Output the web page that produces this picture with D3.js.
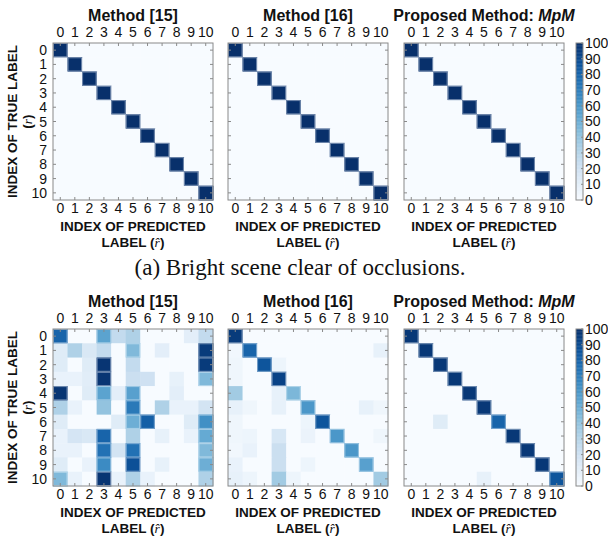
<!DOCTYPE html>
<html>
<head>
<meta charset="utf-8">
<script src="https://cdn.jsdelivr.net/npm/d3@7"></script>
<style>
  html, body { margin: 0; padding: 0; background: #fff; }
  svg { display: block; }
</style>
</head>
<body>
<svg id="chart" width="608" height="536"></svg>
<script>
// Class indices 0..10 (true label rows, predicted label columns)
const classes = d3.range(11);
const colorTicks = [0, 10, 20, 30, 40, 50, 60, 70, 80, 90, 100];
const methodTitles = ["Method [15]", "Method [16]", "Proposed Method: "];
const captionTop = "(a) Bright scene clear of occlusions.";

// Scene (a): bright, no occlusions — every method is perfect
const brightM15 = classes.map(r => classes.map(c => r === c ? 100 : 0));
const brightM16 = classes.map(r => classes.map(c => r === c ? 100 : 0));
const brightMpM = classes.map(r => classes.map(c => r === c ? 100 : 0));

// Scene (b): occluded — confusion percentages (rows: true, cols: predicted)
const occM15 = [
  [80, 0, 0, 55, 25, 32, 0, 0, 0, 10, 25],
  [12, 32, 15, 25, 0, 45, 0, 10, 0, 0, 96],
  [12, 0, 12, 98, 0, 25, 0, 0, 0, 0, 96],
  [7, 7, 11, 98, 0, 22, 20, 0, 8, 0, 45],
  [98, 0, 12, 55, 10, 56, 0, 0, 10, 0, 0],
  [32, 7, 0, 40, 0, 72, 0, 32, 7, 7, 18],
  [12, 0, 0, 0, 12, 50, 82, 0, 0, 12, 63],
  [7, 17, 15, 80, 0, 32, 0, 8, 0, 7, 52],
  [7, 7, 0, 75, 18, 75, 0, 0, 0, 0, 45],
  [12, 0, 7, 65, 0, 88, 0, 8, 0, 0, 50],
  [45, 7, 0, 98, 7, 32, 7, 0, 0, 0, 32]
];
const occM16 = [
  [96, 0, 0, 0, 0, 0, 0, 0, 0, 0, 0],
  [3, 80, 0, 0, 0, 0, 0, 0, 0, 0, 8],
  [4, 0, 86, 5, 0, 0, 0, 0, 0, 0, 0],
  [4, 0, 0, 93, 0, 0, 0, 0, 0, 0, 0],
  [36, 0, 0, 8, 46, 0, 0, 0, 0, 0, 0],
  [8, 4, 0, 8, 0, 60, 0, 0, 0, 8, 4],
  [4, 0, 0, 0, 0, 5, 86, 0, 0, 0, 0],
  [4, 5, 0, 16, 0, 6, 0, 60, 0, 0, 4],
  [3, 7, 0, 22, 0, 0, 0, 0, 60, 0, 0],
  [7, 0, 0, 22, 0, 5, 0, 0, 0, 56, 0],
  [8, 5, 0, 36, 5, 0, 0, 0, 0, 0, 36]
];
const occMpM = [
  [97, 0, 0, 0, 0, 0, 0, 0, 0, 0, 0],
  [0, 97, 0, 0, 0, 0, 0, 0, 0, 0, 0],
  [0, 0, 97, 0, 0, 0, 0, 0, 0, 0, 0],
  [0, 0, 0, 97, 0, 0, 0, 0, 0, 0, 0],
  [0, 0, 0, 0, 97, 0, 0, 0, 0, 0, 0],
  [0, 0, 0, 0, 0, 97, 0, 0, 0, 0, 0],
  [0, 0, 12, 0, 0, 0, 80, 0, 0, 0, 0],
  [0, 0, 0, 0, 0, 0, 0, 97, 0, 0, 0],
  [0, 0, 0, 0, 0, 0, 0, 0, 97, 0, 0],
  [0, 0, 0, 0, 0, 0, 0, 0, 0, 97, 0],
  [0, 0, 0, 0, 0, 8, 0, 0, 0, 0, 86]
];

const svg = d3.select("#chart");
const color = d3.scaleSequential(d3.interpolateBlues).domain([0, 100]);

const panelLeft = [53, 228, 404];
const panelW = 160;
const rowTops = [43, 329];
const panelH = 157;
const tickFont = "'Liberation Sans', Arial, Helvetica, sans-serif";
const axisGrey = "#8a8a8a";

function drawMatrix(g, data, showY) {
  const x = d3.scaleBand().domain(classes).range([0, panelW]);
  const y = d3.scaleBand().domain(classes).range([0, panelH]);
  const cells = [];
  data.forEach((row, r) => row.forEach((v, c) => cells.push({ r, c, v })));

  g.selectAll("rect.cell").data(cells).join("rect")
    .attr("class", "cell")
    .attr("x", d => x(d.c))
    .attr("y", d => y(d.r))
    .attr("width", x.bandwidth() + 0.5)
    .attr("height", y.bandwidth() + 0.5)
    .attr("fill", d => color(d.v));

  // soft rim around strongly coloured cells
  g.selectAll("rect.rim").data(cells.filter(d => d.v > 40)).join("rect")
    .attr("class", "rim")
    .attr("x", d => x(d.c) + 0.5)
    .attr("y", d => y(d.r) + 0.5)
    .attr("width", x.bandwidth() - 1)
    .attr("height", y.bandwidth() - 1)
    .attr("fill", "none")
    .attr("stroke", d => d3.interpolateRgb(color(d.v), "#f7fbff")(0.45))
    .attr("stroke-width", 1);

  const axTop = d3.axisTop(x).tickSize(-3).tickPadding(6);
  const axBot = d3.axisBottom(x).tickSize(-3).tickPadding(3);
  const axLeft = d3.axisLeft(y).tickSize(-3).tickPadding(6);
  const axRight = d3.axisRight(y).tickSize(-3).tickFormat("");

  const styleAxis = sel => {
    sel.select(".domain").remove();
    sel.selectAll("line").attr("stroke", axisGrey);
    sel.selectAll("text")
      .attr("font-family", tickFont)
      .attr("font-size", 14)
      .attr("fill", "#111");
  };
  g.append("g").call(axTop).call(styleAxis);
  g.append("g").attr("transform", `translate(0,${panelH})`).call(axBot).call(styleAxis);
  const gl = g.append("g").call(showY ? axLeft : axLeft.tickFormat("")).call(styleAxis);
  gl.selectAll("text").attr("dy", "0.36em");
  g.append("g").attr("transform", `translate(${panelW},0)`).call(axRight).call(styleAxis);

  g.append("rect")
    .attr("width", panelW).attr("height", panelH)
    .attr("fill", "none").attr("stroke", axisGrey).attr("stroke-width", 1);
}

function drawColorbar(g) {
  const cbW = 7;
  const yc = d3.scaleLinear().domain([0, 100]).range([panelH, 0]);
  const steps = d3.range(0, 100, 0.5);
  g.selectAll("rect.cb").data(steps).join("rect")
    .attr("x", 0)
    .attr("y", d => yc(d + 0.5))
    .attr("width", cbW)
    .attr("height", Math.abs(yc(0) - yc(0.5)) + 0.4)
    .attr("fill", d => color(d + 0.25));
  g.append("rect").attr("width", cbW).attr("height", panelH)
    .attr("fill", "none").attr("stroke", axisGrey);
  const ax = d3.axisRight(yc).tickValues(colorTicks).tickSize(0).tickPadding(2);
  const ga = g.append("g").attr("transform", `translate(${cbW},0)`).call(ax);
  ga.select(".domain").remove();
  ga.selectAll("text").attr("font-family", tickFont).attr("font-size", 14).attr("fill", "#111");
  // inner ticks on the colour bar
  g.selectAll("line.cbt").data(colorTicks).join("line")
    .attr("x1", cbW - 2).attr("x2", cbW)
    .attr("y1", d => yc(d)).attr("y2", d => yc(d))
    .attr("stroke", axisGrey);
}

function drawRow(top, matrices) {
  matrices.forEach((m, i) => {
    const g = svg.append("g").attr("transform", `translate(${panelLeft[i]},${top})`);
    drawMatrix(g, m, i === 0);
    const cx = panelLeft[i] + panelW / 2;

    // panel title
    const t = svg.append("text")
      .attr("x", cx).attr("y", top - 22)
      .attr("text-anchor", "middle")
      .attr("font-family", tickFont).attr("font-weight", "bold").attr("font-size", 16)
      .attr("fill", "#111")
      .text(methodTitles[i]);
    if (i === 2) t.append("tspan").attr("font-style", "italic").text("MpM");

    // x-axis label (two lines)
    const xl = svg.append("text")
      .attr("x", cx).attr("y", top + panelH + 31)
      .attr("text-anchor", "middle")
      .attr("font-family", tickFont).attr("font-weight", "bold").attr("font-size", 13.5)
      .attr("fill", "#111");
    xl.append("tspan").attr("x", cx).text("INDEX OF PREDICTED");
    const l2 = xl.append("tspan").attr("x", cx).attr("dy", 16).text("LABEL (");
    l2.append("tspan").attr("font-family", "'Liberation Serif', serif").attr("font-style", "italic")
      .attr("font-weight", "normal").text("r\u0302");
    l2.append("tspan").text(")");
  });

  // y-axis label (two lines, rotated)
  const cy = top + panelH / 2;
  const yl = svg.append("text")
    .attr("transform", `translate(17,${cy}) rotate(-90)`)
    .attr("text-anchor", "middle")
    .attr("font-family", tickFont).attr("font-weight", "bold").attr("font-size", 13.5)
    .attr("fill", "#111");
  yl.append("tspan").attr("x", 0).text("INDEX OF TRUE LABEL");
  const y2 = yl.append("tspan").attr("x", 0).attr("dy", 15).text("(");
  y2.append("tspan").attr("font-family", "'Liberation Serif', serif").attr("font-style", "italic")
    .attr("font-weight", "normal").text("r");
  y2.append("tspan").text(")");

  drawColorbar(svg.append("g").attr("transform", `translate(576,${top})`));
}

drawRow(rowTops[0], [brightM15, brightM16, brightMpM]);
drawRow(rowTops[1], [occM15, occM16, occMpM]);

svg.append("text")
  .attr("x", 300).attr("y", 275)
  .attr("text-anchor", "middle")
  .attr("font-family", "'Liberation Serif', 'Times New Roman', serif")
  .attr("font-size", 23)
  .attr("fill", "#111")
  .text(captionTop);
</script>
</body>
</html>
